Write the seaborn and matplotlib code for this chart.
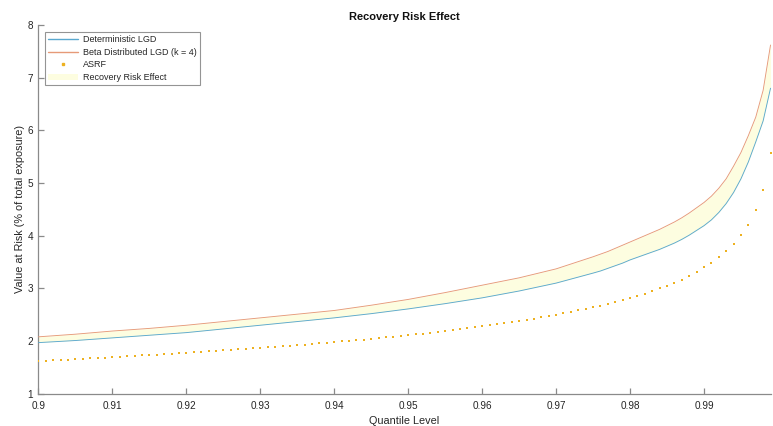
import numpy as np
import pandas as pd
import matplotlib
matplotlib.use("Agg")
import matplotlib.pyplot as plt
import seaborn as sns
from matplotlib.patches import Patch
from matplotlib.lines import Line2D

# Quantile grid for the two simulated VaR curves
q_curve = [0.900, 0.905, 0.910, 0.915, 0.920, 0.925, 0.930, 0.935, 0.940, 0.945,
           0.950, 0.955, 0.960, 0.965, 0.970, 0.975, 0.976, 0.977, 0.978, 0.979,
           0.980, 0.981, 0.982, 0.983,
           0.984, 0.985, 0.986, 0.987, 0.988, 0.989, 0.990, 0.991, 0.992, 0.993,
           0.994, 0.995, 0.996, 0.997, 0.998, 0.999]

var_deterministic = [1.97, 2.01, 2.06, 2.11, 2.16, 2.23, 2.30, 2.37, 2.44, 2.52,
                     2.61, 2.71, 2.82, 2.95, 3.10, 3.29, 3.33, 3.38, 3.43, 3.48,
                     3.54, 3.59, 3.64, 3.69,
                     3.74, 3.80, 3.86, 3.93, 4.01, 4.10, 4.19, 4.30, 4.44, 4.61,
                     4.82, 5.08, 5.40, 5.78, 6.18, 6.80]

var_beta = [2.08, 2.13, 2.19, 2.24, 2.30, 2.37, 2.44, 2.51, 2.58, 2.68,
            2.79, 2.92, 3.06, 3.20, 3.37, 3.60, 3.65, 3.70, 3.76, 3.82,
            3.88, 3.94, 4.00, 4.06,
            4.12, 4.19, 4.26, 4.34, 4.43, 4.53, 4.63, 4.75, 4.90, 5.08,
            5.32, 5.58, 5.90, 6.25, 6.76, 7.62]

# ASRF closed-form VaR, one value per 0.001 quantile step
q_asrf = np.round(np.arange(0.900, 0.9995, 0.001), 3)
var_asrf = [1.620, 1.627, 1.634, 1.641, 1.648, 1.655, 1.662, 1.669, 1.676, 1.683,
            1.690, 1.699, 1.708, 1.717, 1.726, 1.735, 1.744, 1.753, 1.762, 1.771,
            1.780, 1.789, 1.798, 1.807, 1.816, 1.825, 1.834, 1.843, 1.852, 1.861,
            1.870, 1.880, 1.890, 1.900, 1.910, 1.920, 1.932, 1.944, 1.956, 1.968,
            1.980, 1.992, 2.004, 2.016, 2.028, 2.040, 2.054, 2.068, 2.082, 2.096,
            2.110, 2.126, 2.142, 2.158, 2.174, 2.190, 2.208, 2.226, 2.244, 2.262,
            2.280, 2.300, 2.320, 2.340, 2.360, 2.380, 2.402, 2.426, 2.450, 2.475,
            2.500, 2.525, 2.550, 2.580, 2.610, 2.640, 2.670, 2.700, 2.740, 2.780,
            2.820, 2.860, 2.900, 2.950, 3.000, 3.050, 3.100, 3.160, 3.240, 3.310,
            3.400, 3.490, 3.590, 3.710, 3.850, 4.010, 4.210, 4.480, 4.870, 5.570]

x_ticks = [0.90, 0.91, 0.92, 0.93, 0.94, 0.95, 0.96, 0.97, 0.98, 0.99]
x_tick_labels = ["0.9", "0.91", "0.92", "0.93", "0.94", "0.95", "0.96", "0.97", "0.98", "0.99"]
y_ticks = [1, 2, 3, 4, 5, 6, 7, 8]

labels = ["Deterministic LGD", "Beta Distributed LGD (k = 4)", "ASRF", "Recovery Risk Effect"]

c_det = "#5aa8cf"
c_beta = "#e69a78"
c_asrf = "#edb120"
c_fill = "#fdfde0"
c_axis = "#8a8a8a"
c_text = "#262626"

sns.set_style("ticks")
plt.rcParams["font.family"] = ["Liberation Sans", "DejaVu Sans"]

curves = pd.DataFrame({"q": q_curve, "det": var_deterministic, "beta": var_beta})
asrf = pd.DataFrame({"q": q_asrf, "var": var_asrf})

fig = plt.figure(figsize=(7.73, 4.26), dpi=100)
ax = fig.add_axes([0.0498, 0.0758, 0.9470, 0.8655])

ax.fill_between(curves["q"], curves["det"], curves["beta"], color=c_fill, linewidth=0, zorder=1)
sns.lineplot(data=curves, x="q", y="det", ax=ax, color=c_det, linewidth=0.65, zorder=3)
sns.lineplot(data=curves, x="q", y="beta", ax=ax, color=c_beta, linewidth=0.65, zorder=3)
sns.scatterplot(data=asrf, x="q", y="var", ax=ax, color=c_asrf, s=3.0, marker="s",
                linewidth=0, zorder=4)

ax.set_xlim(0.9, 0.999)
ax.set_ylim(1, 8)
ax.set_xticks(x_ticks)
ax.set_xticklabels(x_tick_labels)
ax.set_yticks(y_ticks)

for side in ("top", "right"):
    ax.spines[side].set_visible(False)
for side in ("left", "bottom"):
    ax.spines[side].set_color(c_axis)
    ax.spines[side].set_linewidth(0.9)

ax.tick_params(direction="in", length=4.5, width=0.9, color=c_axis,
               labelsize=7.2, labelcolor=c_text)
ax.tick_params(axis="x", pad=5)
ax.tick_params(axis="y", pad=4)

ax.set_xlabel("Quantile Level", fontsize=7.8, color=c_text, labelpad=4)
ax.set_ylabel("Value at Risk (% of total exposure)", fontsize=7.8, color=c_text, labelpad=2)
ax.set_title("Recovery Risk Effect", fontsize=8, fontweight="bold", color="#111111", pad=3.5)

handles = [
    Line2D([], [], color=c_det, linewidth=1.0),
    Line2D([], [], color=c_beta, linewidth=1.0),
    Line2D([], [], color=c_asrf, linestyle="none", marker="s", markersize=1.6),
    Patch(facecolor=c_fill, edgecolor="none"),
]
leg = ax.legend(handles, labels, loc="upper left", bbox_to_anchor=(0.009, 0.981),
                fontsize=6.5, frameon=True, fancybox=False, borderpad=0.35,
                labelspacing=0.4, handlelength=3.3, handletextpad=0.55,
                borderaxespad=0.0)
leg.get_frame().set_edgecolor("#7a7a7a")
leg.get_frame().set_linewidth(0.8)
for t in leg.get_texts():
    t.set_color(c_text)

fig.savefig("out.png", dpi=100)
